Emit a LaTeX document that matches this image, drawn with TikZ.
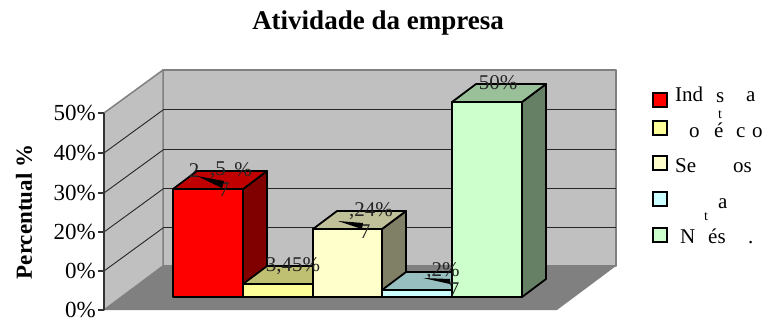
\documentclass[tikz,border=0pt]{standalone}
\usepackage{fontspec}
\setmainfont{Liberation Serif}
\definecolor{wallc}{HTML}{C0C0C0}
\definecolor{floorc}{HTML}{808080}
\definecolor{redF}{HTML}{FF0000}\definecolor{redT}{HTML}{C00000}\definecolor{redS}{HTML}{800000}
\definecolor{yelF}{HTML}{FFFF99}\definecolor{yelT}{HTML}{C0C073}\definecolor{yelS}{HTML}{808066}
\definecolor{lyeF}{HTML}{FFFFCC}\definecolor{lyeT}{HTML}{C0C099}\definecolor{lyeS}{HTML}{808066}
\definecolor{cyaF}{HTML}{CCFFFF}\definecolor{cyaT}{HTML}{99C0C0}\definecolor{cyaS}{HTML}{668080}
\definecolor{grnF}{HTML}{CCFFCC}\definecolor{grnT}{HTML}{99C099}\definecolor{grnS}{HTML}{668066}
\newcommand{\chartbar}[6]{%
  \draw[barline,fill=#6] (#2,#3) -- (#2+24,#3-18) -- (#2+24,279) -- (#2,297) -- cycle;
  \draw[barline,fill=#5] (#1,#3) -- (#1+24,#3-18) -- (#2+24,#3-18) -- (#2,#3) -- cycle;
  \draw[barline,fill=#4] (#1,#3) rectangle (#2,297);
}
\begin{document}
\begin{tikzpicture}[x=1pt,y=-1pt,
  barline/.style={draw=black,line width=1.8pt,line join=round},
  wall/.style={fill=wallc,draw=floorc,line width=1.5pt,line join=round},
  grid/.style={draw=black!85,line width=0.9pt},
  ticklab/.style={font=\fontsize{23}{23}\selectfont,anchor=east,inner sep=0pt},
  lab/.style={font=\fontsize{21}{21}\selectfont,inner sep=0pt,text=black!85},
  leg/.style={font=\fontsize{21}{21}\selectfont,anchor=base west,inner sep=0pt},
  legbox/.style={draw=black,line width=1.5pt,minimum size=14pt,inner sep=0pt},
  wedge/.style={fill=black}]
\useasboundingbox (0,0) rectangle (768,324);
% title
\node[anchor=base,font=\bfseries\fontsize{27}{27}\selectfont] (title) at (378,29) {Atividade da empresa};
% walls and floor
\fill[floorc] (104,310) -- (163,266) -- (616,266) -- (557,310) -- cycle;
\draw[wall] (163,70) rectangle (616,266);
\draw[wall] (104,113) -- (163,70) -- (163,266) -- (104,310) -- cycle;
\foreach \yy in {109,149,188,227} {\draw[grid] (163,\yy) -- (616,\yy);}
\foreach \yy in {153,193,232,271} {\draw[grid] (104,\yy) -- (163,\yy-43);}
\draw[draw=black!80,line width=1.4pt] (104,113) -- (104,310);
\foreach \yy in {113,153,193,232,271,310} {\draw[draw=black!80,line width=1.2pt] (98,\yy) -- (104,\yy);}
% tick labels
\node[ticklab] (t50) at (96,113) {50\%};
\node[ticklab] (t40) at (96,153) {40\%};
\node[ticklab] (t30) at (96,193) {30\%};
\node[ticklab] (t20) at (96,232) {20\%};
\node[ticklab] (t0a) at (96,271) {0\%};
\node[ticklab] (t0b) at (96,310) {0\%};
\node[rotate=90,font=\bfseries\fontsize{23}{23}\selectfont] (ylab) at (24,212) {Percentual \%};
% bars
\chartbar{173}{243}{189}{redF}{redT}{redS}
\chartbar{243}{313}{284}{yelF}{yelT}{yelS}
\chartbar{313}{382}{229}{lyeF}{lyeT}{lyeS}
\chartbar{382}{452}{290}{cyaF}{cyaT}{cyaS}
\chartbar{452}{522}{102}{grnF}{grnT}{grnS}
% data labels
\node[lab] (r2) at (194,171) {2};
\node[lab] (r5) at (218,170) {,5};
\node[lab] (rp) at (243,170) {\%};
\node[lab] (r7) at (224,190) {7};
\fill[wedge] (197,176) -- (224,181) -- (222,188) -- cycle;
\node[lab] (ylb) at (293,266) {3,45\%};
\node[lab] (lyl) at (371,211) {,24\%};
\node[lab] (ly7) at (365,232) {7};
\fill[wedge] (338,221) -- (363,223) -- (362,229) -- cycle;
\node[lab] (cyl) at (443,271) {,2\%};
\node[lab] (cy7) at (454,290) {7};
\fill[wedge] (423,278) -- (450,279) -- (450,284) -- cycle;
\node[lab] (gl) at (498,83) {50\%};
% legend
\node[legbox,fill=redF] (k1) at (660,100) {};
\node[legbox,fill=yelF] (k2) at (660,128) {};
\node[legbox,fill=lyeF] (k3) at (660,163) {};
\node[legbox,fill=cyaF] (k4) at (660,199) {};
\node[legbox,fill=grnF] (k5) at (660,235) {};
\node[leg] (l1a) at (675,101) {Ind};
\node[leg] (l1b) at (716,102) {s};
\node[leg,font=\fontsize{14}{14}\selectfont] (l1c) at (718,118) {t};
\node[leg] (l1d) at (746,101) {a};
\node[leg] (l2a) at (689,137) {o};
\node[leg] (l2b) at (714,137) {é};
\node[leg] (l2c) at (736,137) {c};
\node[leg] (l2d) at (752,137) {o};
\node[leg] (l3a) at (675,172) {Se};
\node[leg] (l3b) at (733,172) {os};
\node[leg,font=\fontsize{14}{14}\selectfont] (l4a) at (704,220) {t};
\node[leg] (l4b) at (718,208) {a};
\node[leg] (l5a) at (680,243) {N};
\node[leg] (l5b) at (708,243) {és};
\node[leg] (l5c) at (748,243) {.};
\end{tikzpicture}
\end{document}
